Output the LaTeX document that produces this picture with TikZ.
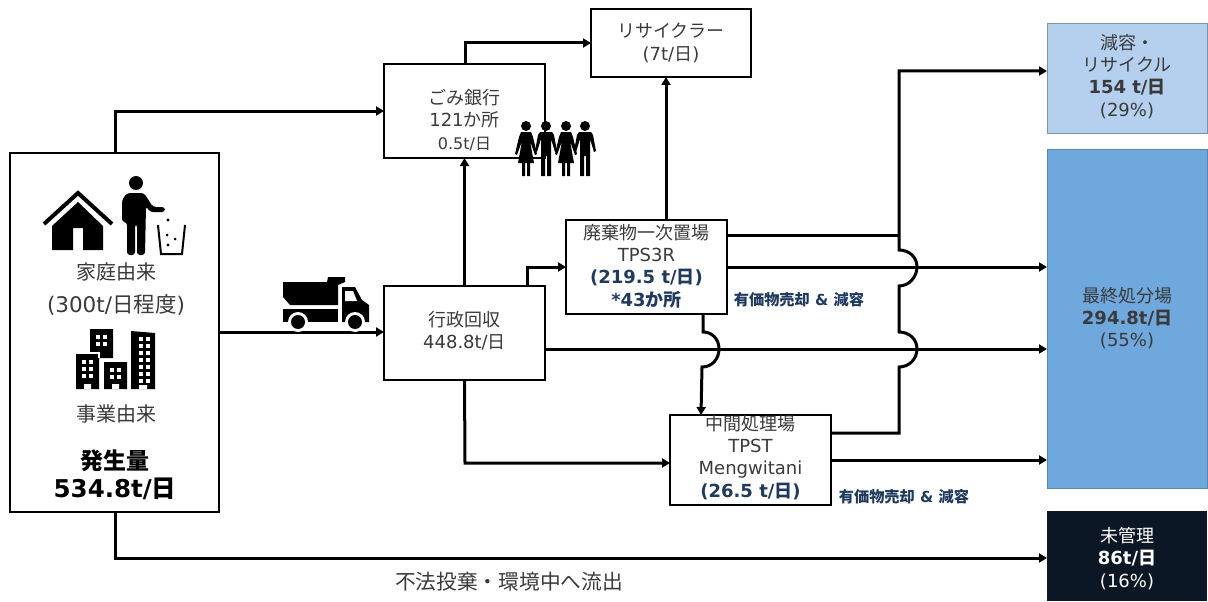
\documentclass[tikz,border=0pt]{standalone}
\usepackage{fontspec}
\setmainfont{DejaVu Sans}
\newfontfamily\jpf{Noto Sans CJK JP}
\usetikzlibrary{arrows.meta,calc}
\newcommand\J[1]{{\jpf #1}}
\newcommand\fs[2]{\fontsize{#1}{#2}\selectfont}
\newcommand\dn[1]{\rule[-#1pt]{0pt}{#1pt}}
\definecolor{txt}{HTML}{3A3A3A}
\definecolor{navy}{HTML}{1F3A5F}
\definecolor{lblue}{HTML}{B4D0EE}
\definecolor{mblue}{HTML}{6FA8DC}
\definecolor{dark}{HTML}{0B1724}
\newcommand\person[2]{% x, dress flag
  \fill (#1,126) circle (5);
  \ifnum#2=1
    \fill (#1-5,132) -- (#1+5,132) -- (#1+7,137) -- (#1+11,154) -- (#1+9,155) -- (#1+4,141) -- (#1+8,163) -- (#1+4,163) -- (#1+4,176) -- (#1+1,176) -- (#1+1,163) -- (#1-1,163) -- (#1-1,176) -- (#1-4,176) -- (#1-4,163) -- (#1-8,163) -- (#1-4,141) -- (#1-9,155) -- (#1-11,154) -- (#1-7,137) -- cycle;
  \else
    \fill (#1-6,132) -- (#1+6,132) -- (#1+8,135) -- (#1+11,151) -- (#1+9,152) -- (#1+5,139) -- (#1+5,176) -- (#1+1,176) -- (#1+1,156) -- (#1-1,156) -- (#1-1,176) -- (#1-5,176) -- (#1-5,139) -- (#1-9,152) -- (#1-11,151) -- (#1-8,135) -- cycle;
  \fi}
\newcommand\winds[4]{% x0,y0,cols,rows
  \foreach \i in {1,...,#3}{\foreach \j in {1,...,#4}{
    \fill[white] ({#1+(\i-1)*7},{#2+(\j-1)*7}) rectangle +(4,4);}}}
\tikzset{
  box/.style={draw=black,line width=1.6pt,fill=white,text=txt,align=center,inner sep=0pt,outer sep=0pt,anchor=north west,font=\fs{18}{22.3}},
  flow/.style={line width=3pt,draw=black},
  arr/.style={flow,-{Triangle[length=8pt,width=9pt]}},
  plain/.style={text=txt,align=center,inner sep=0pt},
  hl/.style={text=navy,font=\bfseries\fs{15.2}{18}},
}
\begin{document}
\begin{tikzpicture}[x=1pt,y=-1pt]
\useasboundingbox (0,0) rectangle (1208,602);

% boxes
\node[box,minimum width=209pt,minimum height=359pt] (src) at (10,153) {};
\node[box,minimum width=161pt,minimum height=94pt] (gomi) at (384,64) {\rule{0pt}{33pt}\J{ごみ銀行}\\121\J{か所}\\{\fs{16}{20}\color{txt}0.5t/\J{日}}};
\node[box,minimum width=160pt,minimum height=68pt] (recy) at (591,9) {\J{リサイクラー}\\(7t/\J{日})};
\node[box,minimum width=161pt,minimum height=94pt] (tps3r) at (566,220) {\J{廃棄物一次置場}\\TPS3R\\{\bfseries\color{navy}(219.5 t/\J{日})}\\{\bfseries\color{navy}*43\J{か所}\dn{4}}};
\node[box,minimum width=161pt,minimum height=94pt] (gyosei) at (384,286) {\J{行政回収}\\448.8t/\J{日}\dn{6}};
\node[box,minimum width=161pt,minimum height=90pt] (tpst) at (670,415) {\J{中間処理場}\\TPST\\Mengwitani\\{\bfseries\color{navy}(26.5 t/\J{日})}\dn{8}};
\node[box,draw=none,fill=lblue,minimum width=160pt,minimum height=110pt] (reduce) at (1047,23) {\J{減容・}\\\J{リサイクル}\\{\bfseries 154 t/\J{日}}\\(29\%)\dn{5.5}};
\draw[line width=0.8pt,draw=lblue!70!black] (reduce.north west) rectangle (reduce.south east);
\node[box,draw=none,fill=mblue,minimum width=160pt,minimum height=339pt] (land) at (1047,149) {\J{最終処分場}\\{\bfseries 294.8t/\J{日}}\\(55\%)\dn{3.5}};
\draw[line width=0.8pt,draw=mblue!80!black] (land.north west) rectangle (land.south east);
\node[box,draw=none,fill=dark,text=white,minimum width=160pt,minimum height=90pt] (unm) at (1047,511) {\rule{0pt}{20pt}\J{未管理}\\{\bfseries 86t/\J{日}}\\(16\%)};

% helper coordinates
\coordinate (a1) at (115,111);
\coordinate (a2) at (115,558);
\coordinate (a3) at (465,43);
\coordinate (a4) at (527,267);
\coordinate (a5) at (465,463);
\coordinate (yA) at (0,332);
\coordinate (yB) at (0,349);
\coordinate (yC) at (0,267);
\coordinate (yD) at (0,235);
\coordinate (yE) at (0,433);
\coordinate (yF) at (0,460);
\coordinate (xV) at (899,0);
\coordinate (xT) at (666,0);
\coordinate (jt) at (899,71);

% connectors
\draw[arr] (a1 |- src.north) -- (a1) -- (a1 -| gomi.west);
\draw[arr] (src.east |- yA) -- (gyosei.west |- yA);
\draw[arr] (a2 |- src.south) -- (a2) -- (a2 -| unm.west);
\draw[arr] (a3 |- gomi.north) -- (a3) -- (a3 -| recy.west);
\draw[arr] (gyosei.north -| gomi.south) -- (gomi.south);
\draw[arr] (a4 |- gyosei.north) -- (a4) -- (a4 -| tps3r.west);
\draw[arr] (gyosei.east |- yB) -- (land.west |- yB);
\draw[arr] (gyosei.south) -- (a5) -- (a5 -| tpst.west);
\draw[arr] (xT |- tps3r.north) -- (xT |- recy.south);
\draw[arr] (tps3r.east |- yC) -- (land.west |- yC);
\draw[flow] (tps3r.east |- yD) -- (xV |- yD);
\draw[arr] (703,314) -- (703,332) .. controls (712,332) and (719,339) .. (719,349) .. controls (719,359) and (712,367) .. (702,367) -- (701,415);
\draw[arr] (tpst.east |- yE) -- (xV |- yE) -- (899,367) .. controls (909,367) and (917,359) .. (917,349) .. controls (917,339) and (909,332) .. (899,332) -- (899,286) .. controls (909,286) and (917,277) .. (917,267) .. controls (917,257) and (909,250) .. (899,250) -- (jt) -- (jt -| reduce.west);
\draw[arr] (tpst.east |- yF) -- (land.west |- yF);

% left-box texts
\node[plain,font=\fs{20}{24}] (t1) at (116,272) {\J{家庭由来}};
\node[plain,font=\fs{21.5}{24}] (t2) at (116,305) {(300t/\J{日程度})};
\node[plain,font=\fs{20}{24}] (t3) at (116,414) {\J{事業由来}};
\node[plain,text=black,font=\bfseries\fs{23}{26}] (t4) at (115,461) {\J{発生量}};
\node[plain,text=black,font=\bfseries\fs{24.5}{28}] (t5) at (115,489) {534.8t/\J{日}};
\node[plain,font=\fs{20.7}{24}] (t6) at (509,582) {\J{不法投棄・環境中へ流出}};
\node[hl] (h1) at (799,300) {\J{有価物売却} \& \J{減容}};
\node[hl] (h2) at (904,497) {\J{有価物売却} \& \J{減容}};

% house
\draw[line width=4pt,miter limit=10] (44,224) -- (78,193) -- (112,224);
\fill (52,250) -- (52,226) -- (78,202) -- (103,226) -- (103,250) -- (83,250) -- (83,228) -- (73,228) -- (73,250) -- cycle;
% person with bin
\fill (136,183) circle (7);
\fill[rounded corners=3pt] (122,200) -- (127,193) -- (144,193) -- (153,207) -- (165,207) -- (165,212) -- (150,212) -- (146,206) -- (145,255) -- (137,255) -- (137,224) -- (135,224) -- (135,255) -- (127,255) -- (127,222) -- (122,222) -- cycle;
\draw[line width=2pt] (158,225) -- (161,254) -- (182,254) -- (185,225);
\fill (168,220) circle (1.7) (167,235) circle (1.5) (175,239) circle (1.5) (168,245) circle (1.7);
% buildings
\fill (90,329) rectangle (113,358) (76,354) rectangle (99,389) (104,362) rectangle (127,389);
\fill (131,331) -- (155,333) -- (155,389) -- (131,389) -- cycle;
\draw[white,line width=1.5pt] (99,358) -- (99,353) -- (90,353);
\winds{96}{335}{2}{2}
\winds{82}{360}{2}{3}
\winds{110}{368}{2}{2}
\winds{139}{337}{2}{7}
\fill[white] (84,384) rectangle (91,389) (112,384) rectangle (119,389) (139,385) rectangle (147,389);
% truck
\fill (283,282) -- (327,282) -- (328,277) -- (345,277) -- (345,282) -- (338,285) -- (338,305) -- (290,305) -- (283,297) -- cycle;
\fill (283,309) rectangle (338,322);
\fill (342,287) -- (355,287) -- (362,300) -- (369,305) -- (369,322) -- (342,322) -- cycle;
\fill[white] (345,291) -- (353,291) -- (357,301) -- (345,301) -- cycle;
\fill[white] (298,322) circle (10) (355,322) circle (10);
\fill (298,322) circle (7) (355,322) circle (7);
% people
\person{526}{1}
\person{546}{0}
\person{566}{1}
\person{585}{0}
\end{tikzpicture}
\end{document}
